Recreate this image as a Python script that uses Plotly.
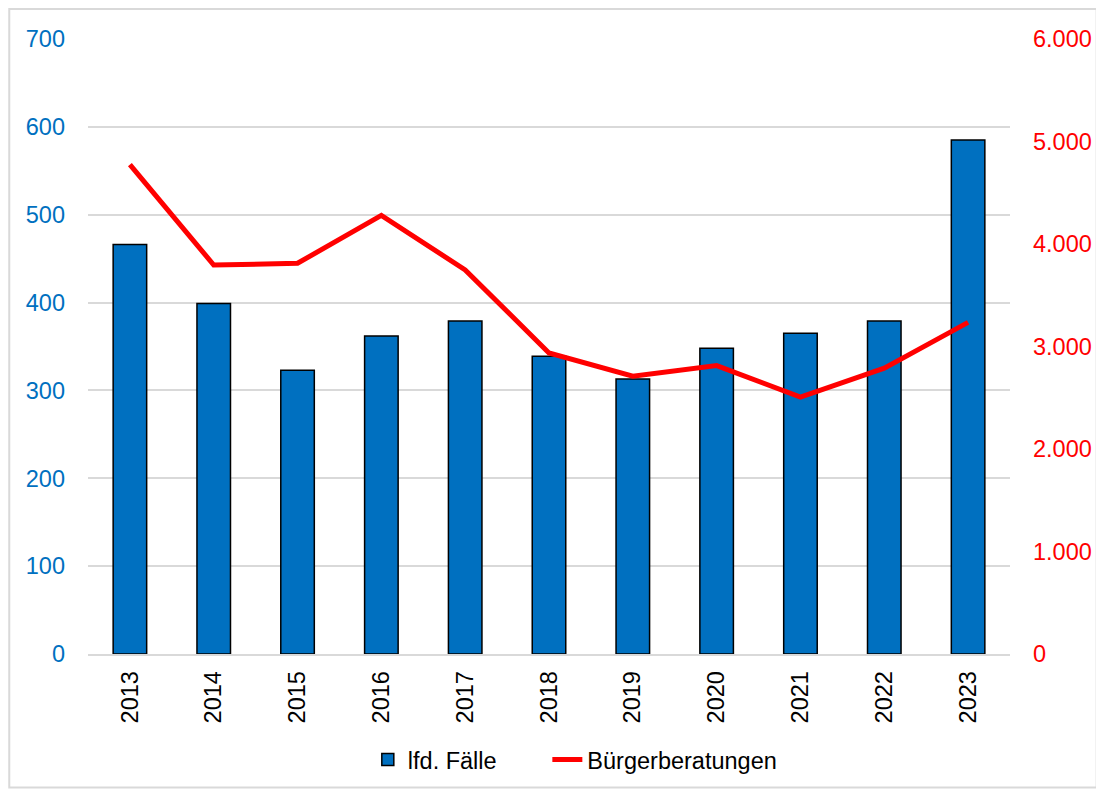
import plotly.graph_objects as go

years = ["2013", "2014", "2015", "2016", "2017", "2018", "2019", "2020", "2021", "2022", "2023"]
faelle = [466, 399, 323, 362, 379, 339, 313, 348, 365, 379, 585]
beratungen = [4775, 3795, 3812, 4279, 3747, 2937, 2710, 2814, 2506, 2788, 3235]
left_ticks = [0, 100, 200, 300, 400, 500, 600, 700]
right_ticks = [0, 1000, 2000, 3000, 4000, 5000, 6000]

FONT = "Liberation Sans, Arial, sans-serif"
FS = 23.5
PAD = "\u00a0" * 7

fig = go.Figure()
fig.add_trace(go.Bar(
    x=years, y=faelle, name="lfd. Fälle" + PAD,
    marker=dict(color="#0070C0", line=dict(color="black", width=1.5)),
))
fig.add_trace(go.Scatter(
    x=years, y=beratungen, name="Bürgerberatungen", yaxis="y2",
    mode="lines", line=dict(color="#FF0000", width=5),
))

fig.update_layout(
    width=1096, height=786,
    margin=dict(l=80, r=91, t=31, b=138),
    paper_bgcolor="white", plot_bgcolor="white",
    separators=",.",
    bargap=0.6,
    font=dict(family=FONT, size=FS, color="black"),
    xaxis=dict(
        type="category", tickangle=-90, showgrid=False,
        showline=True, linecolor="#d9d9d9", linewidth=1.5,
        ticks="", tickfont=dict(size=FS, color="black"),
        ticklabelstandoff=6,
    ),
    yaxis=dict(
        range=[0, 700], tickvals=left_ticks, showgrid=True,
        gridcolor="#d9d9d9", gridwidth=1.5, zeroline=False,
        tickfont=dict(size=FS, color="#0070C0"), ticks="",
        ticklabelstandoff=22,
    ),
    yaxis2=dict(
        range=[0, 6000], tickvals=right_ticks, overlaying="y", side="right",
        showgrid=False, zeroline=False, tickformat=",d",
        tickfont=dict(size=FS, color="#FF0000"), ticks="",
        ticklabelstandoff=22,
    ),
    legend=dict(
        orientation="h", x=0.528, xanchor="center", y=-0.172, yanchor="middle",
        font=dict(size=FS, color="black"),
    ),
    shapes=[dict(
        type="rect", xref="paper", yref="paper",
        x0=-0.0854, x1=1.094, y0=-0.217, y1=1.0486,
        line=dict(color="#d9d9d9", width=2), fillcolor="rgba(0,0,0,0)", layer="below",
    )],
)

fig.write_html("out.html")
